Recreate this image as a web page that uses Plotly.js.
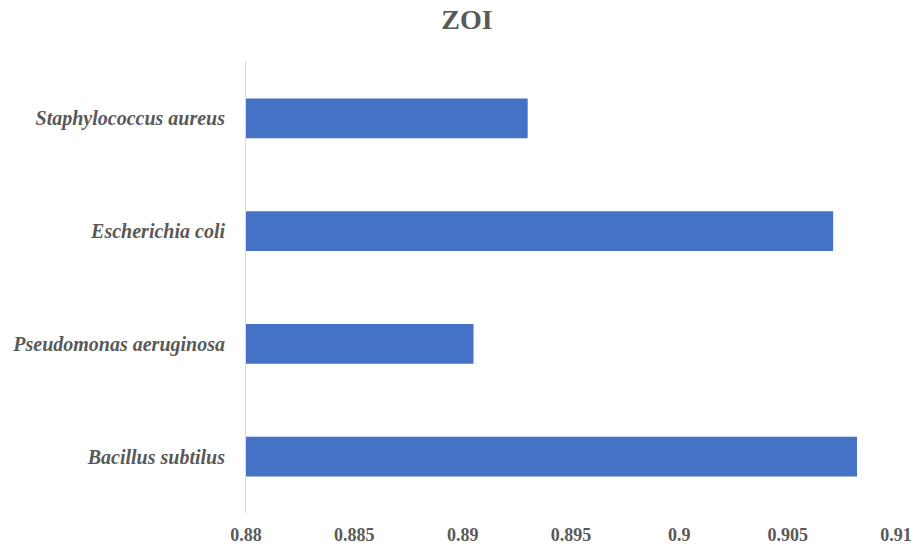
<!DOCTYPE html>
<html>
<head>
<meta charset="utf-8">
<script src="https://cdn.plot.ly/plotly-3.0.1.min.js"></script>
<style>
  html, body { margin: 0; padding: 0; background: #ffffff; }
  #chart { width: 914px; height: 547px; }
</style>
</head>
<body>
<div id="chart"></div>
<script>
// Zone of inhibition per organism (bottom to top)
const organisms = [
  'Bacillus subtilus',
  'Pseudomonas aeruginosa',
  'Escherichia coli',
  'Staphylococcus aureus'
];
const zoiValues = [0.9082, 0.8905, 0.9071, 0.893];

const xTickVals = [0.88, 0.885, 0.89, 0.895, 0.9, 0.905, 0.91];
const xTickText = ['0.88', '0.885', '0.89', '0.895', '0.9', '0.905', '0.91'];

const textGrey = '#595959';
const serif = '"Liberation Serif", "Times New Roman", serif';

const trace = {
  type: 'bar',
  orientation: 'h',
  y: organisms,
  x: zoiValues,
  marker: { color: '#4472C4', line: { width: 0 } },
  hoverinfo: 'x+y'
};

const layout = {
  width: 914,
  height: 547,
  paper_bgcolor: '#ffffff',
  plot_bgcolor: '#ffffff',
  margin: { l: 246, r: 18, t: 62, b: 34 },
  bargap: 0.646,
  showlegend: false,
  title: {
    text: '<b>ZOI</b>',
    font: { family: serif, size: 28, color: textGrey },
    xref: 'container', x: 0.511, xanchor: 'center',
    yref: 'container', y: 0.965, yanchor: 'middle'
  },
  xaxis: {
    range: [0.88, 0.91],
    tickmode: 'array',
    tickvals: xTickVals,
    ticktext: xTickText,
    showgrid: false,
    zeroline: false,
    showline: false,
    ticks: 'outside',
    ticklen: 5,
    tickcolor: 'rgba(0,0,0,0)',
    tickfont: { family: serif, size: 18, color: textGrey, weight: 'bold' }
  },
  yaxis: {
    type: 'category',
    showgrid: false,
    zeroline: false,
    showline: true,
    linecolor: '#D9D9D9',
    linewidth: 1,
    ticks: 'outside',
    ticklen: 16,
    tickcolor: 'rgba(0,0,0,0)',
    tickfont: { family: serif, size: 20, color: textGrey, weight: 'bold', style: 'italic' }
  }
};

Plotly.newPlot('chart', [trace], layout, { displayModeBar: false, staticPlot: true });
</script>
</body>
</html>
